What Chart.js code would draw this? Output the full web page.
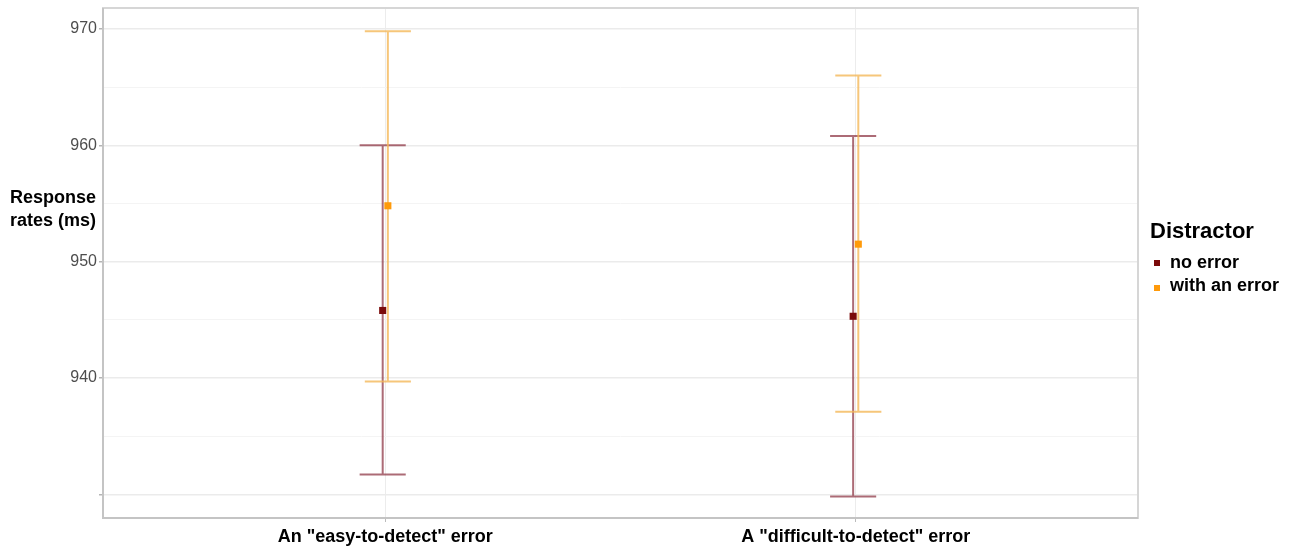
<!DOCTYPE html>
<html>
<head>
<meta charset="utf-8">
<script src="https://cdn.jsdelivr.net/npm/chart.js@4"></script>
<style>
  html, body { margin: 0; padding: 0; background: #ffffff; }
  #wrap { width: 1295px; height: 546px; position: relative; }
</style>
</head>
<body>
<div id="wrap"><canvas id="c"></canvas></div>
<script>
// Conditions on the x axis
const categories = ['An "easy-to-detect" error', 'A "difficult-to-detect" error'];
// Distractor groups
const seriesNames = ['no error', 'with an error'];
// Mean response times and interval bounds (ms)
const noErrorMean = [945.8, 945.3];
const noErrorLow = [931.7, 929.8];
const noErrorHigh = [960.0, 960.8];
const withErrorMean = [954.8, 951.5];
const withErrorLow = [939.7, 937.1];
const withErrorHigh = [969.8, 966.0];
// Labelled y ticks, and all grid positions
const yTickLabels = [940, 950, 960, 970];
const yGridValues = [930, 935, 940, 945, 950, 955, 960, 965, 970];

const pointColors = ['#7a0a0a', '#ff9a0a'];
const barColors = ['rgba(140, 50, 65, 0.72)', 'rgba(244, 182, 85, 0.78)'];
const dodge = 0.0055;     // horizontal offset of each group, in category units
const capHalf = 0.049;    // half width of the whiskers' caps, in category units

const means = [noErrorMean, withErrorMean];
const lows = [noErrorLow, withErrorLow];
const highs = [noErrorHigh, withErrorHigh];

function groupData(g) {
  const off = g === 0 ? -dodge : dodge;
  return categories.map((_, i) => ({ x: i + 1 + off, y: means[g][i], lo: lows[g][i], hi: highs[g][i] }));
}

const errorBars = {
  id: 'errorBars',
  beforeDatasetsDraw(chart) {
    const { ctx, chartArea: a, scales: { x, y } } = chart;
    // panel border
    ctx.save();
    ctx.lineWidth = 2;
    ctx.strokeStyle = '#d6d6d6';
    ctx.strokeRect(a.left, a.top, a.right - a.left, a.bottom - a.top);
    ctx.strokeStyle = '#c4c4c4';
    ctx.beginPath();
    ctx.moveTo(a.left, a.top); ctx.lineTo(a.left, a.bottom); ctx.lineTo(a.right, a.bottom);
    ctx.stroke();
    // whiskers
    ctx.lineWidth = 2;
    chart.data.datasets.forEach((ds, g) => {
      ctx.strokeStyle = barColors[g];
      ds.data.forEach(p => {
        const px = x.getPixelForValue(p.x);
        const x0 = x.getPixelForValue(p.x - capHalf);
        const x1 = x.getPixelForValue(p.x + capHalf);
        const yl = y.getPixelForValue(p.lo);
        const yh = y.getPixelForValue(p.hi);
        ctx.beginPath();
        ctx.moveTo(px, yl); ctx.lineTo(px, yh);
        ctx.moveTo(x0, yl); ctx.lineTo(x1, yl);
        ctx.moveTo(x0, yh); ctx.lineTo(x1, yh);
        ctx.stroke();
      });
    });
    ctx.restore();
  },
  afterDraw(chart) {
    const { ctx } = chart;
    ctx.save();
    ctx.fillStyle = '#000000';
    ctx.textBaseline = 'middle';
    ctx.textAlign = 'left';
    // y axis title
    ctx.font = 'bold 18px "Liberation Sans", Arial, sans-serif';
    ctx.fillText('Response', 10, 198);
    ctx.fillText('rates (ms)', 10, 221);
    // legend
    ctx.font = 'bold 22px "Liberation Sans", Arial, sans-serif';
    ctx.fillText('Distractor', 1150, 232);
    ctx.font = 'bold 18px "Liberation Sans", Arial, sans-serif';
    const rows = [263, 286];
    chart.data.datasets.forEach((ds, g) => {
      ctx.fillStyle = pointColors[g];
      ctx.fillRect(1154, rows[g] - 3 + (g === 1 ? 2 : 0), 6, 6);
      ctx.fillStyle = '#000000';
      ctx.fillText(ds.label, 1170, rows[g]);
    });
    ctx.restore();
  }
};

new Chart(document.getElementById('c'), {
  type: 'scatter',
  data: {
    datasets: seriesNames.map((name, g) => ({
      label: name,
      data: groupData(g),
      pointStyle: 'rect',
      pointRadius: 5,
      pointHoverRadius: 5,
      backgroundColor: pointColors[g],
      borderColor: pointColors[g],
      borderWidth: 0
    }))
  },
  options: {
    responsive: true,
    maintainAspectRatio: false,
    animation: false,
    events: [],
    layout: { padding: { left: 0, right: 157, top: 8, bottom: 0 } },
    plugins: { legend: { display: false }, tooltip: { enabled: false } },
    scales: {
      x: {
        type: 'linear',
        min: 0.4,
        max: 2.6,
        afterBuildTicks: s => { s.ticks = categories.map((_, i) => ({ value: i + 1 })); },
        afterFit: s => { s.height = 28; s.paddingLeft = 0; s.paddingRight = 0; },
        border: { display: false },
        grid: { color: '#ececec', lineWidth: 1, tickLength: 4, tickColor: '#bbbbbb' },
        ticks: {
          padding: 4,
          color: '#000000',
          font: { family: '"Liberation Sans", Arial, sans-serif', size: 18, weight: 'bold' },
          callback: v => categories[Math.round(v) - 1],
          maxRotation: 0
        }
      },
      y: {
        min: 927.96,
        max: 971.8,
        afterBuildTicks: s => { s.ticks = yGridValues.map(v => ({ value: v })); },
        afterFit: s => { s.width = 103; s.paddingTop = 0; s.paddingBottom = 0; },
        border: { display: false },
        grid: {
          color: c => (c.tick && c.tick.value % 10 === 0) ? '#ebebeb' : '#f4f4f4',
          lineWidth: c => (c.tick && c.tick.value % 10 === 0) ? 1.5 : 1,
          tickLength: 4,
          tickColor: c => (c.tick && c.tick.value % 10 === 0) ? '#b5b5b5' : 'rgba(0,0,0,0)'
        },
        ticks: {
          padding: 2,
          color: '#4d4d4d',
          font: { family: '"Liberation Sans", Arial, sans-serif', size: 16 },
          callback: v => yTickLabels.includes(v) ? String(v) : ''
        }
      }
    }
  },
  plugins: [errorBars]
});
</script>
</body>
</html>
